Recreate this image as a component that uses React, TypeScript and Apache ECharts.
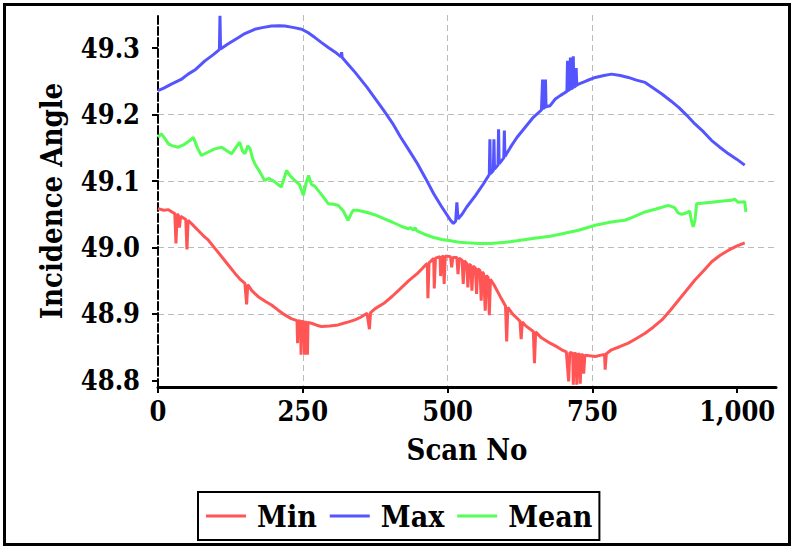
import React, { useEffect, useRef } from "react";
import * as echarts from "echarts";

const minScans = [0,10,18,25,29,31,33,35,37,39,48,50,52,60,69,78,87,98,110,121,133,142,150,153,155,162,173,185,196,207,219,230,240,241,242,246,247,248,252,253,254,257,258,259,265,274,282,296,311,325,340,350,361,365,367,375,390,405,419,433,448,458,465,466,468,476,477,479,487,488,490,493,494,496,499,505,507,509,516,518,520,525,527,529,533,535,537,540,542,544,548,550,552,556,558,560,562,565,567,570,572,574,580,591,600,602,604,612,620,625,627,629,635,648,650,652,662,677,690,697,705,709,711,716,717,719,722,723,725,728,729,731,734,735,737,745,755,765,771,772,774,783,798,812,826,841,855,870,885,899,913,927,942,956,970,985,999,1013];
const minValues = [49.0585,49.056,49.057,49.053,49.051,49.006,49.05,49.049,49.03,49.047,49.042,48.997,49.041,49.034,49.026,49.018,49.011,48.999,48.986,48.974,48.961,48.952,48.946,48.9145,48.944,48.935,48.926,48.919,48.9135,48.906,48.8985,48.893,48.89,48.856,48.89,48.889,48.8385,48.889,48.888,48.8385,48.888,48.887,48.8385,48.887,48.886,48.883,48.881,48.882,48.8835,48.887,48.891,48.895,48.901,48.877,48.902,48.908,48.916,48.927,48.9385,48.95,48.961,48.97,48.976,48.9235,48.977,48.9835,48.9385,48.984,48.986,48.957,48.986,48.987,48.945,48.987,48.987,48.986,48.97,48.985,48.985,48.96,48.984,48.981,48.945,48.98,48.976,48.94,48.975,48.973,48.935,48.972,48.969,48.93,48.968,48.965,48.92,48.963,48.961,48.905,48.958,48.955,48.898,48.952,48.944,48.926,48.912,48.8585,48.91,48.9,48.8935,48.889,48.862,48.888,48.882,48.8735,48.826,48.873,48.864,48.856,48.85,48.846,48.843,48.7985,48.842,48.841,48.7935,48.841,48.84,48.7935,48.84,48.839,48.795,48.839,48.838,48.81,48.838,48.837,48.836,48.838,48.839,48.816,48.84,48.846,48.851,48.856,48.863,48.871,48.88,48.891,48.906,48.921,48.936,48.951,48.965,48.9785,48.988,48.996,49.002,49.007];

const maxScans = [0,10,23,40,52,65,81,95,106,107,108,120,139,150,167,180,196,210,219,235,248,260,271,283,294,306,316,317,318,328,340,361,375,390,405,419,433,448,462,476,490,505,510,514,516,518,525,533,548,562,572,573,574,579,580,581,587,588,589,597,598,599,610,620,634,648,662,664,665,668,669,670,677,686,695,703,706,707,708,711,712,713,716,717,718,721,722,723,726,740,755,770,783,798,812,826,841,855,870,885,899,913,927,942,956,970,985,999,1013];
const maxValues = [49.236,49.24,49.246,49.253,49.261,49.268,49.281,49.29,49.298,49.349,49.299,49.306,49.316,49.322,49.3285,49.331,49.3335,49.334,49.3335,49.331,49.3285,49.323,49.316,49.308,49.301,49.294,49.287,49.294,49.286,49.276,49.264,49.241,49.224,49.206,49.187,49.166,49.147,49.126,49.104,49.081,49.061,49.041,49.036,49.04,49.068,49.043,49.05,49.061,49.078,49.096,49.11,49.163,49.111,49.116,49.163,49.118,49.124,49.178,49.126,49.135,49.176,49.137,49.153,49.166,49.181,49.196,49.207,49.253,49.209,49.211,49.253,49.212,49.2135,49.2235,49.229,49.2335,49.235,49.281,49.236,49.238,49.286,49.239,49.24,49.288,49.241,49.243,49.27,49.244,49.246,49.251,49.256,49.259,49.261,49.259,49.256,49.252,49.2485,49.24,49.231,49.221,49.211,49.199,49.186,49.174,49.161,49.151,49.141,49.133,49.124];

const meanScans = [0,6,12,18,25,35,45,55,61,68,75,85,98,110,118,127,134,141,146,150,155,159,163,167,175,184,192,202,213,218,222,228,236,244,251,256,260,265,271,282,294,303,311,320,328,333,337,344,360,375,390,405,420,432,436,441,444,447,460,476,490,505,520,533,555,574,600,620,650,677,700,726,755,780,795,806,815,841,860,881,892,898,904,912,918,921,924,927,930,956,975,990,995,1002,1013,1015];
const meanValues = [49.166,49.171,49.164,49.156,49.153,49.151,49.155,49.161,49.166,49.15,49.1385,49.143,49.1485,49.151,49.146,49.141,49.15,49.1585,49.145,49.141,49.153,49.149,49.135,49.126,49.115,49.101,49.104,49.0985,49.091,49.105,49.116,49.108,49.101,49.095,49.0785,49.098,49.1085,49.095,49.092,49.08,49.066,49.065,49.0635,49.055,49.041,49.05,49.056,49.056,49.053,49.049,49.0435,49.038,49.032,49.028,49.03,49.026,49.03,49.025,49.02,49.015,49.012,49.01,49.008,49.007,49.006,49.006,49.008,49.01,49.014,49.017,49.021,49.026,49.0335,49.038,49.04,49.041,49.044,49.0535,49.058,49.0635,49.06,49.052,49.05,49.052,49.055,49.04,49.031,49.04,49.066,49.068,49.07,49.071,49.073,49.068,49.069,49.0535];

const seriesNames = ["Min", "Max", "Mean"];
const seriesColors = ["#ff5555", "#5555ff", "#55ff55"];
const xTicks = [0, 250, 500, 750, 1000];
const yTicks = [48.8, 48.9, 49.0, 49.1, 49.2, 49.3];

const FONT = "'DejaVu Serif Condensed', 'DejaVu Serif', serif";

function zip(xs: number[], ys: number[]) {
  return xs.map((x, i) => [x, ys[i]]);
}

export default function App() {
  const ref = useRef<HTMLDivElement>(null);
  useEffect(() => {
    if (!ref.current) return;
    const chart = echarts.init(ref.current, null, { renderer: "svg" });
    const datasets = [zip(minScans, minValues), zip(maxScans, maxValues), zip(meanScans, meanValues)];
    chart.setOption({
      animation: false,
      backgroundColor: "#fff",
      textStyle: { fontFamily: FONT, fontWeight: "bold", color: "#000" },
      grid: { left: 158, right: 18, top: 15, bottom: 162, containLabel: false },
      graphic: [
        {
          type: "rect",
          shape: { x: 4.5, y: 4.5, width: 785, height: 540 },
          style: { fill: "none", stroke: "#000", lineWidth: 3 },
          silent: true,
          z: 100,
        },
      ],
      legend: {
        left: 198,
        top: 492,
        orient: "horizontal",
        icon: "rect",
        itemWidth: 40,
        itemHeight: 3,
        itemGap: 13,
        padding: [9, 7, 9, 8],
        borderColor: "#000",
        borderWidth: 2,
        textStyle: { fontFamily: FONT, fontWeight: "bold", fontSize: 30, color: "#000", padding: [0, 0, 0, 6] },
        data: seriesNames,
      },
      xAxis: {
        type: "value",
        min: 0,
        max: 1067,
        interval: 250,
        name: "Scan No",
        nameLocation: "middle",
        nameGap: 48,
        nameTextStyle: { fontFamily: FONT, fontWeight: "bold", fontSize: 29, color: "#000" },
        axisLine: { onZero: false, lineStyle: { color: "#000", width: 3 } },
        axisTick: { show: true, inside: false, length: 6, lineStyle: { color: "#000", width: 2 }, customValues: xTicks },
        axisLabel: {
          fontFamily: FONT, fontWeight: "bold", fontSize: 27, color: "#000", margin: 11,
          customValues: xTicks,
          formatter: (v: number) => v.toLocaleString("en-US"),
        },
        splitLine: { show: true, showMinLine: false, showMaxLine: false, lineStyle: { color: "#bbb", type: [6, 4], width: 1 } },
      },
      yAxis: {
        type: "value",
        min: 48.79,
        max: 49.35,
        splitNumber: 5,
        name: "Incidence Angle",
        nameLocation: "middle",
        nameGap: 92,
        nameTextStyle: { fontFamily: FONT, fontWeight: "bold", fontSize: 29, color: "#000" },
        axisLine: { show: true, lineStyle: { color: "#000", width: 2, type: [8, 3] } },
        axisTick: { show: true, inside: false, length: 6, lineStyle: { color: "#000", width: 2 }, customValues: yTicks },
        axisLabel: {
          fontFamily: FONT, fontWeight: "bold", fontSize: 27, color: "#000", margin: 18,
          customValues: yTicks,
          formatter: (v: number) => v.toFixed(1),
        },
        splitLine: { show: true, showMinLine: false, showMaxLine: false, lineStyle: { color: "#bbb", type: [6, 4], width: 1 } },
      },
      series: seriesNames.map((name, i) => ({
        name,
        type: "line",
        data: datasets[i],
        symbol: "none",
        showSymbol: false,
        clip: true,
        lineStyle: { color: seriesColors[i], width: 3 },
        itemStyle: { color: seriesColors[i] },
        z: 3 + i,
      })),
    });
    return () => chart.dispose();
  }, []);
  return (
    <div style={{ position: "fixed", left: 0, top: 0, width: 794, height: 549, background: "#fff" }}>
      <div ref={ref} style={{ width: 794, height: 549 }} />
    </div>
  );
}
